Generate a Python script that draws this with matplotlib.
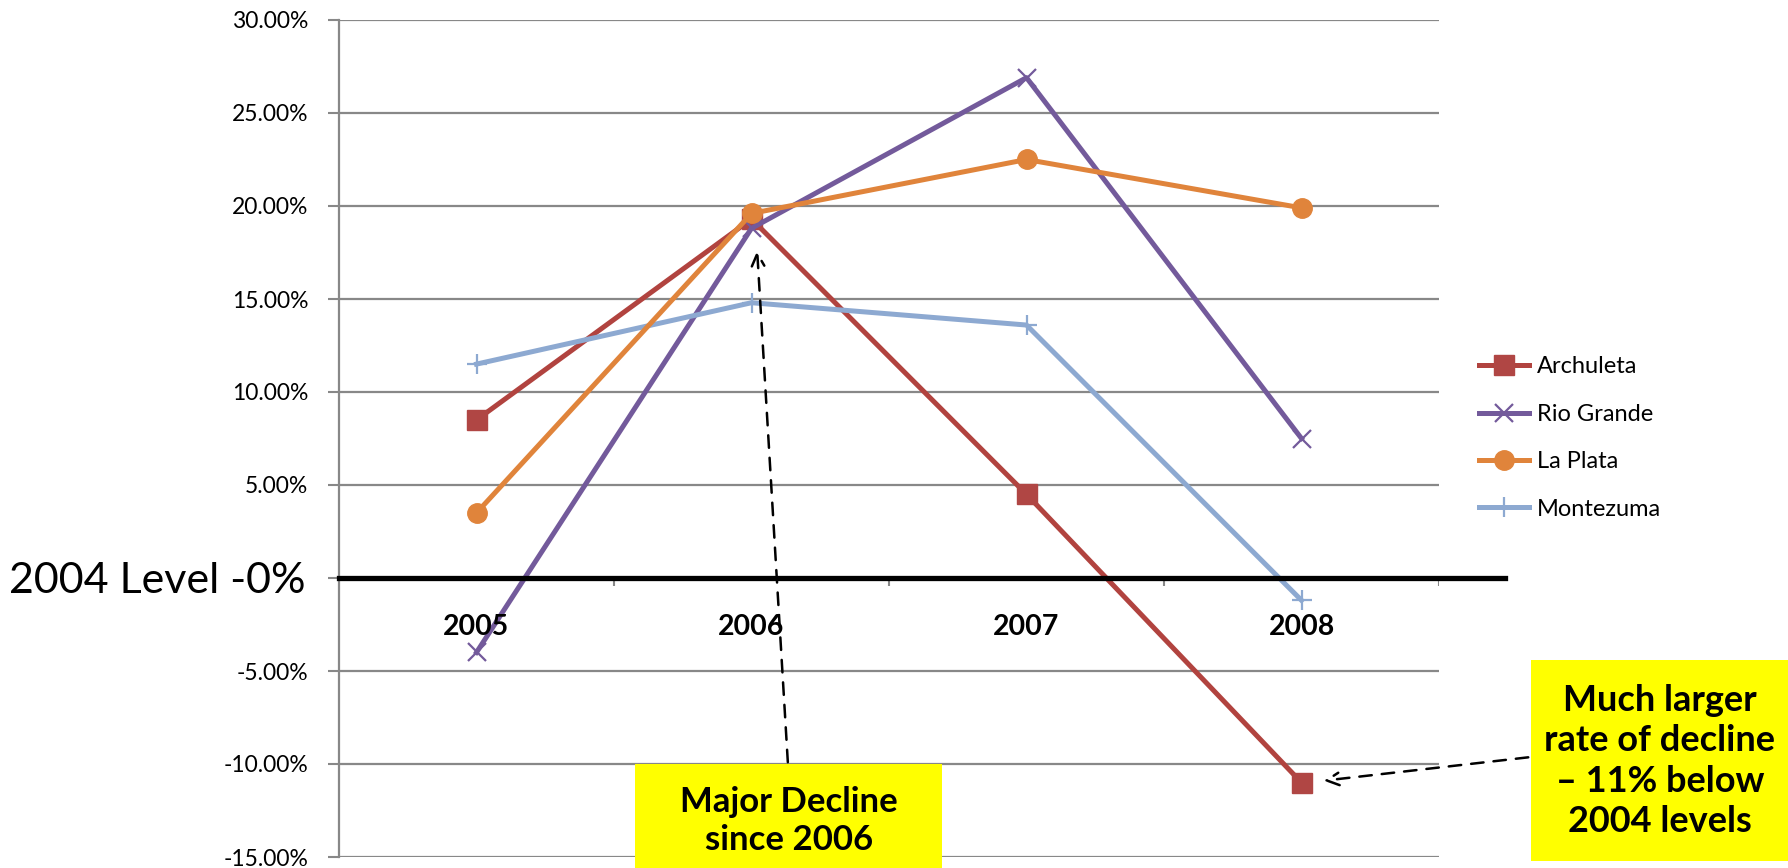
import matplotlib
matplotlib.use("Agg")
from matplotlib import pyplot as plt
from matplotlib.patches import Rectangle
from matplotlib.ticker import FuncFormatter

plt.rcParams['font.family'] = ['Lato', 'DejaVu Sans']

years = ['2005', '2006', '2007', '2008']
archuleta = [8.5, 19.3, 4.5, -11.0]
rio_grande = [-4.0, 18.8, 26.9, 7.5]
la_plata = [3.5, 19.6, 22.5, 19.9]
montezuma = [11.5, 14.8, 13.6, -1.2]
yticks = [-15, -10, -5, 0, 5, 10, 15, 20, 25, 30]

W, H = 1788, 868
fig = plt.figure(figsize=(W / 100, H / 100), dpi=100)
# plot area in pixels: x 339..1439, y 20..857
ax = fig.add_axes([339 / W, 1 - 857 / H, 1100 / W, 837 / H])

grid_c = '#888888'
x = range(len(years))

ax.plot(x, archuleta, color='#B1433F', lw=3.6, marker='s', ms=14,
        mfc='#B04644', mec='#B04644', label='Archuleta', zorder=3)
ax.plot(x, rio_grande, color='#735A9B', lw=3.6, marker='x', ms=13,
        mew=1.6, label='Rio Grande', zorder=3)
ax.plot(x, la_plata, color='#E0843B', lw=3.6, marker='o', ms=14,
        label='La Plata', zorder=4)
ax.plot(x, montezuma, color='#8DA9D1', lw=3.6, marker='+', ms=15,
        mew=1.6, label='Montezuma', zorder=3)

ax.set_xlim(-0.5, 3.5)
ax.set_ylim(-15, 30)
ax.set_yticks(yticks)
# no label at 0, the baseline gets its own text
ax.yaxis.set_major_formatter(FuncFormatter(lambda v, p: '' if v == 0 else '{:.2f}%'.format(v)))
ax.tick_params(axis='y', length=8, width=1.5, color=grid_c, labelsize=16.5, pad=14)
ax.set_xticks([])
ax.grid(axis='y', color=grid_c, lw=1.6, zorder=0)
for s in ['top', 'right', 'bottom']:
    ax.spines[s].set_visible(False)
ax.spines['left'].set_color(grid_c)
ax.spines['left'].set_linewidth(1.6)

# the 2004 baseline, running past the plot area
ax.axhline(0, xmin=0, xmax=(1505 - 339) / 1100, color='black', lw=3.8,
           clip_on=False, zorder=5)
ax.vlines([0.5, 1.5, 2.5, 3.5], -0.45, 0, color=grid_c, lw=1.5, zorder=2)
for i, yr in enumerate(years):
    ax.text(i, -2.65, yr, ha='center', va='center', fontsize=20.5,
            fontweight='bold', zorder=6)

fig.text(9 / W, 1 - 581 / H, '2004 Level -0%', fontsize=31, ha='left',
         va='center')

ax.legend(loc='center left', bbox_to_anchor=(1479 / W, 1 - 438 / H),
          bbox_transform=fig.transFigure, frameon=False, fontsize=17,
          handlelength=2.1, handletextpad=0.35, labelspacing=1.12,
          borderpad=0, borderaxespad=0)

# yellow callouts
fig.patches.append(Rectangle((635 / W, 0), 307 / W, 104 / H, transform=fig.transFigure,
                             facecolor='#FFFF00', edgecolor='none', zorder=10))
fig.text(789 / W, 1 - 821 / H, 'Major Decline\nsince 2006', ha='center',
         va='center', fontsize=25, fontweight='bold', linespacing=1.22, zorder=11)
fig.patches.append(Rectangle((1531 / W, 1 - 861 / H), 257 / W, 201 / H,
                             transform=fig.transFigure, facecolor='#FFFF00',
                             edgecolor='none', zorder=10))
fig.text(1660 / W, 1 - 761 / H, 'Much larger\nrate of decline\n\u2013 11% below\n2004 levels',
         ha='center', va='center', fontsize=26, fontweight='bold',
         linespacing=1.26, zorder=11)

arrow = dict(arrowstyle='->,head_length=0.9,head_width=0.45', color='black',
             lw=1.8, linestyle=(0, (5, 4)))
ax.annotate('', xy=(757 / W, 1 - 248 / H), xycoords='figure fraction',
            xytext=(788 / W, 1 - 765 / H), textcoords='figure fraction',
            arrowprops=arrow, zorder=9)
ax.annotate('', xy=(1321 / W, 1 - 781 / H), xycoords='figure fraction',
            xytext=(1531 / W, 1 - 757 / H), textcoords='figure fraction',
            arrowprops=arrow, zorder=9)

plt.savefig('out.png', dpi=100)
